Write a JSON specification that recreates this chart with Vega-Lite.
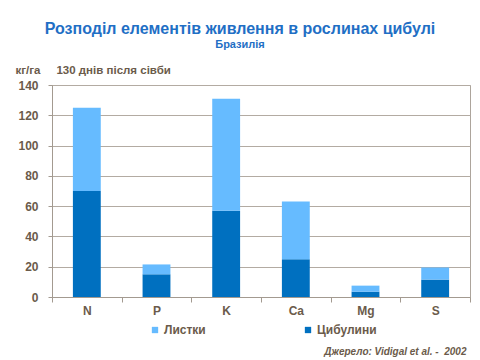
{
  "$schema": "https://vega.github.io/schema/vega-lite/v6.json",
  "width": 418,
  "height": 212,
  "autosize": "none",
  "padding": {"left": 52, "top": 85, "right": 10, "bottom": 63},
  "background": "white",
  "title": {
    "text": "Розподіл елементів живлення в рослинах цибулі",
    "subtitle": "Бразилія",
    "anchor": "middle",
    "frame": "group",
    "dx": -21,
    "offset": 14,
    "font": "Liberation Sans",
    "fontSize": 16,
    "fontWeight": "bold",
    "color": "#1f6fc5",
    "subtitleFont": "Liberation Sans",
    "subtitleFontSize": 11,
    "subtitleFontWeight": "bold",
    "subtitleColor": "#1f6fc5",
    "subtitlePadding": 2
  },
  "config": {
    "view": {"stroke": "#ada59c", "strokeWidth": 1},
    "axis": {
      "labelFont": "Liberation Sans",
      "labelFontWeight": "bold",
      "labelColor": "#6b5b4b",
      "titleFont": "Liberation Sans",
      "titleColor": "#6b5b4b",
      "domainColor": "#a39a90",
      "tickColor": "#a39a90",
      "gridColor": "#b3aba2"
    }
  },
  "data": {
    "values": [
      {"element": "N", "part": "Цибулини", "ord": 1, "value": 70},
      {"element": "N", "part": "Листки", "ord": 2, "value": 55},
      {"element": "P", "part": "Цибулини", "ord": 1, "value": 15},
      {"element": "P", "part": "Листки", "ord": 2, "value": 6.5},
      {"element": "K", "part": "Цибулини", "ord": 1, "value": 57},
      {"element": "K", "part": "Листки", "ord": 2, "value": 74},
      {"element": "Ca", "part": "Цибулини", "ord": 1, "value": 25},
      {"element": "Ca", "part": "Листки", "ord": 2, "value": 38},
      {"element": "Mg", "part": "Цибулини", "ord": 1, "value": 3.5},
      {"element": "Mg", "part": "Листки", "ord": 2, "value": 4},
      {"element": "S", "part": "Цибулини", "ord": 1, "value": 11.5},
      {"element": "S", "part": "Листки", "ord": 2, "value": 8}
    ]
  },
  "mark": {"type": "bar", "width": {"band": 0.4}},
  "encoding": {
    "x": {
      "field": "element",
      "type": "nominal",
      "sort": ["N", "P", "K", "Ca", "Mg", "S"],
      "scale": {"paddingInner": 0, "paddingOuter": 0},
      "axis": {
        "title": "Джерело: Vidigal et al. -\u00a0\u00a02002",
        "titleFontStyle": "italic",
        "titleFontWeight": "bold",
        "titleFontSize": 10,
        "titleAnchor": "end",
        "titleAlign": "right",
        "titleBaseline": "alphabetic",
        "titleX": 414,
        "titleY": 57,
        "labelAngle": 0,
        "labelFontSize": 12,
        "labelPadding": 3,
        "tickBand": "extent",
        "tickSize": 5,
        "grid": false
      }
    },
    "y": {
      "field": "value",
      "type": "quantitative",
      "stack": "zero",
      "scale": {"domain": [0, 140], "nice": false},
      "axis": {
        "values": [0, 20, 40, 60, 80, 100, 120, 140],
        "title": "кг/га\u00a0\u00a0\u00a0\u00a0\u00a0130 днів після сівби",
        "titleAngle": 0,
        "titleAlign": "left",
        "titleBaseline": "alphabetic",
        "titleFontWeight": "bold",
        "titleFontSize": 11.5,
        "titleX": -37,
        "titleY": -12,
        "labelFontSize": 12,
        "labelPadding": 10,
        "tickSize": 4
      }
    },
    "color": {
      "field": "part",
      "type": "nominal",
      "scale": {"domain": ["Листки", "Цибулини"], "range": ["#66bbff", "#0070c0"]},
      "legend": {
        "title": null,
        "orient": "none",
        "direction": "horizontal",
        "legendX": 97,
        "legendY": 239,
        "columns": 2,
        "columnPadding": 96,
        "symbolType": "square",
        "symbolSize": 40,
        "symbolStrokeWidth": 0,
        "labelFont": "Liberation Sans",
        "labelFontSize": 12,
        "labelFontWeight": "bold",
        "labelColor": "#6b5b4b",
        "labelOffset": 3
      }
    },
    "order": {"field": "ord", "type": "quantitative"}
  }
}
